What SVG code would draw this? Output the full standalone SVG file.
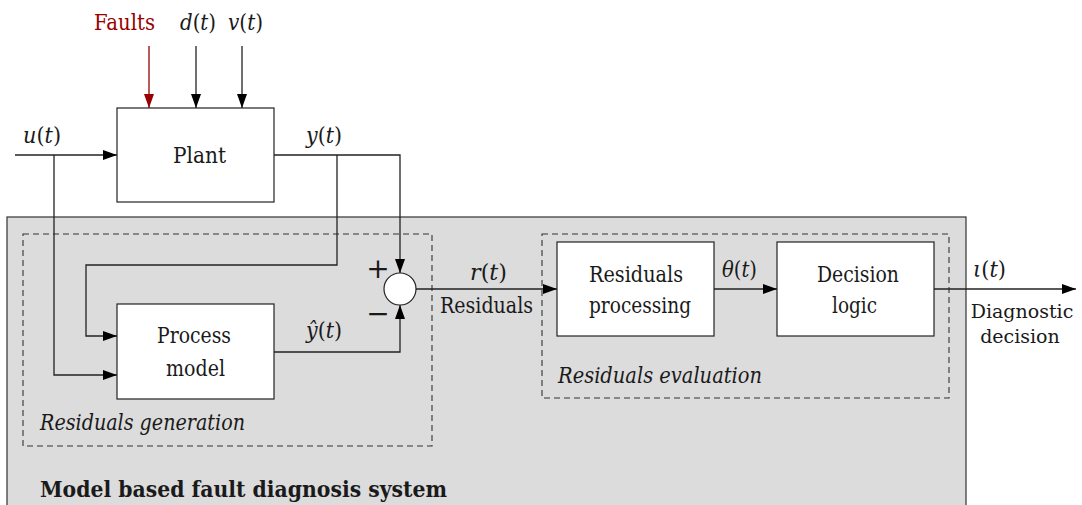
<svg xmlns="http://www.w3.org/2000/svg" width="1082" height="505" viewBox="0 0 1082 505">
<style>
text{font-family:"DejaVu Serif",serif;font-size:22px;fill:#1a1a1a}
.it{font-style:italic}
.bd{font-weight:bold}
.sm{font-size:19px}
.box{fill:#fff;stroke:#222;stroke-width:1.2}
.dash{fill:none;stroke:#333;stroke-width:1.1;stroke-dasharray:6 4}
.ln{fill:none;stroke:#222;stroke-width:1.3}
.red{stroke:#990000}
.op{font-size:28px}
</style>
<defs>
<marker id="ah" viewBox="0 0 14 10" refX="14" refY="5" markerWidth="14" markerHeight="10" markerUnits="userSpaceOnUse" orient="auto">
<path d="M0,0 L14,5 L0,10 Z" fill="#000"/>
</marker>
<marker id="ahr" viewBox="0 0 14 10" refX="14" refY="5" markerWidth="14" markerHeight="10" markerUnits="userSpaceOnUse" orient="auto">
<path d="M0,0 L14,5 L0,10 Z" fill="#990000"/>
</marker>
</defs>

<g id="system">
<rect x="7" y="217" width="959" height="310" fill="#dcdcdc" stroke="#333" stroke-width="1.2"/>
<text class="bd" x="40" y="497" textLength="407" lengthAdjust="spacingAndGlyphs">Model based fault diagnosis system</text>
</g>
<g id="residuals-generation">
<rect class="dash" x="23" y="234" width="409" height="212"/>
<text class="it" x="40" y="430" textLength="205" lengthAdjust="spacingAndGlyphs">Residuals generation</text>
</g>
<g id="residuals-evaluation">
<rect class="dash" x="542" y="234" width="407" height="164"/>
<text class="it" x="558" y="383" textLength="204" lengthAdjust="spacingAndGlyphs">Residuals evaluation</text>
</g>

<g id="connectors">
<path class="ln red" d="M149,46 V108" marker-end="url(#ahr)"/>
<path class="ln" d="M196,46 V108" marker-end="url(#ah)"/>
<path class="ln" d="M242,46 V108" marker-end="url(#ah)"/>
<path class="ln" d="M15,155 H117" marker-end="url(#ah)"/>
<path class="ln" d="M54,155 V375 H117" marker-end="url(#ah)"/>
<path class="ln" d="M274,155 H400 V273" marker-end="url(#ah)"/>
<path class="ln" d="M337,155 V265 H86 V336 H117" marker-end="url(#ah)"/>
<path class="ln" d="M274,352 H400 V305" marker-end="url(#ah)"/>
<path class="ln" d="M416,289 H557" marker-end="url(#ah)"/>
<path class="ln" d="M714,289 H777" marker-end="url(#ah)"/>
<path class="ln" d="M934,289 H1076" marker-end="url(#ah)"/>
</g>

<g id="labels">
<text x="94" y="30" style="fill:#990000" textLength="61" lengthAdjust="spacingAndGlyphs">Faults</text>
<text x="180" y="30" textLength="36" lengthAdjust="spacingAndGlyphs"><tspan class="it">d</tspan>(<tspan class="it">t</tspan>)</text>
<text x="228" y="30" textLength="35" lengthAdjust="spacingAndGlyphs"><tspan class="it">v</tspan>(<tspan class="it">t</tspan>)</text>
<text x="23" y="143" textLength="38" lengthAdjust="spacingAndGlyphs"><tspan class="it">u</tspan>(<tspan class="it">t</tspan>)</text>
<text x="306" y="143" textLength="36" lengthAdjust="spacingAndGlyphs"><tspan class="it">y</tspan>(<tspan class="it">t</tspan>)</text>
<text x="306" y="338" textLength="36" lengthAdjust="spacingAndGlyphs"><tspan class="it">ŷ</tspan>(<tspan class="it">t</tspan>)</text>
<text class="op" x="378" y="278" text-anchor="middle">+</text>
<text class="op" x="378" y="323" text-anchor="middle">−</text>
<text x="470" y="280" textLength="37" lengthAdjust="spacingAndGlyphs"><tspan class="it">r</tspan>(<tspan class="it">t</tspan>)</text>
<text x="440" y="313" textLength="93" lengthAdjust="spacingAndGlyphs">Residuals</text>
<text x="722" y="277" textLength="35" lengthAdjust="spacingAndGlyphs"><tspan class="it">θ</tspan>(<tspan class="it">t</tspan>)</text>
<text x="973" y="277" textLength="33" lengthAdjust="spacingAndGlyphs"><tspan class="it">ι</tspan>(<tspan class="it">t</tspan>)</text>
<text class="sm" x="1022" y="318" text-anchor="middle">Diagnostic</text>
<text class="sm" x="1020" y="343" text-anchor="middle">decision</text>
</g>

<g id="plant">
<rect class="box" x="117" y="108" width="157" height="94"/>
<text x="173" y="163" textLength="53" lengthAdjust="spacingAndGlyphs">Plant</text>
</g>
<g id="process-model">
<rect class="box" x="117" y="304" width="157" height="95"/>
<text x="157" y="343" textLength="74" lengthAdjust="spacingAndGlyphs">Process</text>
<text x="166" y="376" textLength="59" lengthAdjust="spacingAndGlyphs">model</text>
</g>
<g id="sum">
<circle cx="400" cy="289" r="16" fill="#fff" stroke="#222" stroke-width="1.2"/>
</g>
<g id="residuals-processing">
<rect class="box" x="557" y="242" width="157" height="94"/>
<text x="589" y="282" textLength="94" lengthAdjust="spacingAndGlyphs">Residuals</text>
<text x="589" y="313" textLength="102" lengthAdjust="spacingAndGlyphs">processing</text>
</g>
<g id="decision-logic">
<rect class="box" x="777" y="242" width="157" height="94"/>
<text x="817" y="282" textLength="82" lengthAdjust="spacingAndGlyphs">Decision</text>
<text x="832" y="313" textLength="45" lengthAdjust="spacingAndGlyphs">logic</text>
</g>
</svg>
